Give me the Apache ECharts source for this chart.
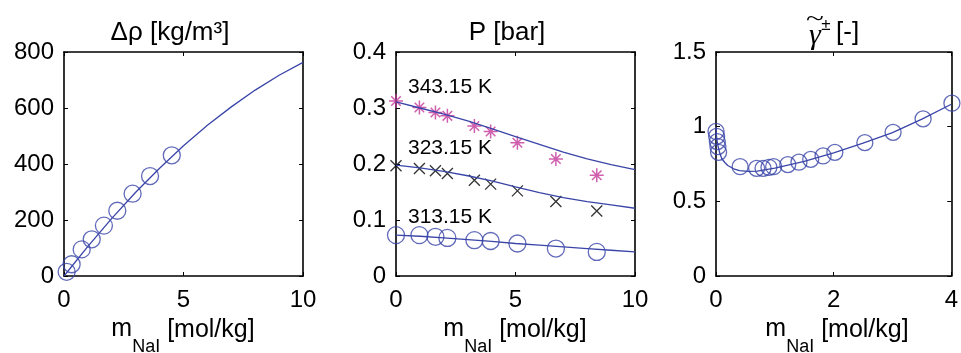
<!DOCTYPE html>
<html>
<head>
<meta charset="utf-8">
<script src="https://cdn.jsdelivr.net/npm/echarts@6/dist/echarts.min.js"></script>
<style>
html,body{margin:0;padding:0;background:#fff;}
#chart{width:961px;height:353px;}
</style>
</head>
<body>
<div id="chart"></div>
<script>
// ---- Data ----
const rhoX = [0.11, 0.32, 0.74, 1.16, 1.67, 2.23, 2.87, 3.60, 4.51];
const rhoY = [15, 42, 95, 131, 180, 233, 294, 357, 431];
const rhoFitX = [0, 1, 2, 3, 4, 5, 6, 7, 8, 9, 10];
const rhoFitY = [0, 106, 206, 299, 385, 465, 538, 604, 664, 717, 763];

const pX = [0, 0.98, 1.65, 2.15, 3.28, 3.96, 5.08, 6.69, 8.40];
const p313 = [0.073, 0.073, 0.070, 0.068, 0.064, 0.0625, 0.058, 0.049, 0.043];
const p323 = [0.197, 0.192, 0.188, 0.183, 0.171, 0.164, 0.152, 0.133, 0.116];
const p343 = [0.3125, 0.301, 0.292, 0.286, 0.268, 0.258, 0.238, 0.209, 0.180];
const pFitX = [0, 1, 2, 3, 4, 5, 6, 7, 8, 9, 10];
const pFit313 = [0.073, 0.071, 0.068, 0.065, 0.062, 0.058, 0.055, 0.052, 0.049, 0.046, 0.043];
const pFit323 = [0.198, 0.193, 0.187, 0.179, 0.170, 0.159, 0.149, 0.140, 0.133, 0.127, 0.121];
const pFit343 = [0.311, 0.300, 0.289, 0.277, 0.263, 0.249, 0.235, 0.221, 0.209, 0.199, 0.190];
const tempLabels = ['343.15 K', '323.15 K', '313.15 K'];

const gX = [0, 0.011, 0.022, 0.033, 0.044, 0.41, 0.69, 0.80, 0.90, 0.98, 1.22, 1.41, 1.61, 1.82, 2.02, 2.53, 3.01, 3.52, 4.01];
const gY = [0.968, 0.935, 0.90, 0.866, 0.828, 0.732, 0.721, 0.721, 0.728, 0.732, 0.746, 0.762, 0.781, 0.804, 0.828, 0.893, 0.962, 1.052, 1.157];
const gFitX = [0, 0.005, 0.01, 0.02, 0.04, 0.07, 0.1, 0.15, 0.2, 0.3, 0.4, 0.55, 0.7, 1.0, 1.5, 2.0, 2.5, 3.0, 3.5, 4.0];
const gFitY = [1.0, 0.95, 0.93, 0.90, 0.86, 0.815, 0.785, 0.76, 0.74, 0.718, 0.706, 0.70, 0.702, 0.722, 0.768, 0.825, 0.89, 0.96, 1.05, 1.15];

const xTicks = [[0, 10, 5], [0, 10, 5], [0, 4, 2]];
const yTicks = [[0, 800, 200], [0, 0.4, 0.1], [0, 1.5, 0.5]];
const titles = ['\u0394\u03C1 [kg/m\u00B3]', 'P [bar]'];

// ---- Helpers ----
const FONT = '"Liberation Sans", Arial, Helvetica, sans-serif';
const BLUE = '#3a45a8';
const PINK = '#c4379a';
const zip = (a, b) => a.map((v, i) => [v, b[i]]);

const grids = [
  {left: 64, top: 52, width: 239, height: 224},
  {left: 396, top: 52, width: 239, height: 224},
  {left: 716, top: 52, width: 240, height: 224}
];

function mkAxis(kind, i, range, mirror) {
  return {
    type: 'value', gridIndex: i, min: range[0], max: range[1], interval: range[2],
    position: mirror ? (kind === 'x' ? 'top' : 'right') : (kind === 'x' ? 'bottom' : 'left'),
    axisLine: {show: true, onZero: false, lineStyle: {color: '#000', width: 1.6}},
    axisTick: {show: true, inside: true, length: 4, lineStyle: {color: '#000', width: 1}},
    axisLabel: {show: !mirror, color: '#000', fontSize: 24, fontFamily: FONT, margin: kind === 'x' ? 12 : 10},
    splitLine: {show: false}
  };
}

const xAxis = [], yAxis = [];
for (let i = 0; i < 3; i++) { xAxis.push(mkAxis('x', i, xTicks[i], false)); yAxis.push(mkAxis('y', i, yTicks[i], false)); }
for (let i = 0; i < 3; i++) { xAxis.push(mkAxis('x', i, xTicks[i], true)); yAxis.push(mkAxis('y', i, yTicks[i], true)); }

const circleStyle = {color: 'rgba(0,0,0,0)', borderColor: BLUE, borderWidth: 1.3};
function fitLine(i, xs, ys) {
  return {type: 'line', xAxisIndex: i, yAxisIndex: i, data: zip(xs, ys), smooth: false,
    showSymbol: false, lineStyle: {color: BLUE, width: 1.3}, silent: true, z: 3};
}
function scatter(i, xs, ys, symbol, size, style) {
  return {type: 'scatter', xAxisIndex: i, yAxisIndex: i, data: zip(xs, ys), symbol: symbol, symbolSize: size,
    itemStyle: style, silent: true, clip: false, z: 2};
}

const STAR = 'path://M5 0L5 10M0 5L10 5M1.6 1.6L8.4 8.4M8.4 1.6L1.6 8.4';
const CROSS = 'path://M0 0L10 10M10 0L0 10';

const series = [
  fitLine(0, rhoFitX, rhoFitY),
  scatter(0, rhoX, rhoY, 'circle', 17, circleStyle),
  fitLine(1, pFitX, pFit313),
  fitLine(1, pFitX, pFit323),
  fitLine(1, pFitX, pFit343),
  scatter(1, pX, p313, 'circle', 17, circleStyle),
  scatter(1, pX, p323, CROSS, 11, {color: 'rgba(0,0,0,0)', borderColor: '#000', borderWidth: 1.3}),
  scatter(1, pX, p343, STAR, 14, {color: 'rgba(0,0,0,0)', borderColor: PINK, borderWidth: 1.5}),
  fitLine(2, gFitX, gFitY),
  scatter(2, gX, gY, 'circle', 16, circleStyle)
];

// text measurement for axis names with subscript
const cv = document.createElement('canvas').getContext('2d');
function tw(t, size, fam) { cv.font = size + 'px ' + (fam || FONT); return cv.measureText(t).width; }

const graphic = [];
function txt(x, y, text, size, align, extra) {
  graphic.push({type: 'text', x: x, y: y, silent: true,
    style: Object.assign({text: text, font: size + 'px ' + FONT, fill: '#000', align: align || 'left', verticalAlign: 'middle'}, extra || {})});
}
function axisName(cx) {
  const wM = tw('m', 25), wS = tw('NaI', 18), wSp = tw(' ', 25), wB = tw('[mol/kg]', 25);
  const x0 = cx - (wM + wS + wSp + wB) / 2;
  txt(x0, 329, 'm', 25);
  txt(x0 + wM, 347, 'NaI', 18);
  txt(x0 + wM + wS + wSp, 330, '[mol/kg]', 25);
}
axisName(183);
axisName(515);
axisName(837);

txt(170, 33, titles[0], 26, 'center');
txt(507, 33, titles[1], 26, 'center');
// gamma title
graphic.push({type: 'text', x: 815, y: 36, silent: true,
  style: {text: '\u03B3', font: 'italic 30px "Liberation Serif", serif', fill: '#000', align: 'center', verticalAlign: 'middle'}});
graphic.push({type: 'text', x: 815, y: 19, silent: true, scaleX: 1.5,
  style: {text: '~', font: '22px "Liberation Serif", serif', fill: '#000', align: 'center', verticalAlign: 'middle'}});
txt(826, 25, '\u00B1', 17, 'center');
txt(836, 33, '[-]', 26, 'left');

// temperature labels
txt(408, 87, tempLabels[0], 21);
txt(408, 148, tempLabels[1], 21);
txt(408, 217, tempLabels[2], 21);

const chart = echarts.init(document.getElementById('chart'), null, {renderer: 'canvas'});
chart.setOption({
  animation: false,
  backgroundColor: '#fff',
  grid: grids,
  xAxis: xAxis,
  yAxis: yAxis,
  series: series,
  graphic: graphic
});
</script>
</body>
</html>
